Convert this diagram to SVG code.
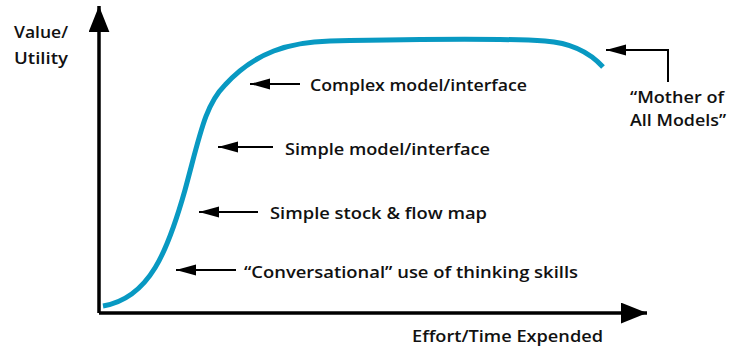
<svg xmlns="http://www.w3.org/2000/svg" width="739" height="351" viewBox="0 0 739 351">
  <defs>
    <marker id="head" viewBox="0 0 10 10" refX="10" refY="5" markerWidth="10" markerHeight="5.6" orient="auto" markerUnits="strokeWidth" preserveAspectRatio="none">
      <path d="M0,0 L10,5 L0,10 Z" fill="#000"/>
    </marker>
    <marker id="axisHead" viewBox="0 0 10 10" refX="10" refY="5" markerWidth="7.5" markerHeight="6" orient="auto" markerUnits="strokeWidth" preserveAspectRatio="none">
      <path d="M0,0 L10,5 L0,10 Z" fill="#000"/>
    </marker>
    <style>
      .lbl { font-family: "Open Sans", "Liberation Sans", sans-serif; font-weight: 600; font-size: 17px; fill: #111; }
      .ptr { stroke: #000; stroke-width: 2; fill: none; marker-end: url(#head); }
      .axis { stroke: #000; stroke-width: 3.5; fill: none; marker-end: url(#axisHead); }
      .curve { stroke: #0899c2; stroke-width: 5; fill: none; stroke-linecap: butt; }
    </style>
  </defs>

  <!-- axes -->
  <g id="axes">
    <path class="axis" d="M99,313 L99,6"/>
    <path class="axis" d="M99,313 L647,313"/>
    <text class="lbl" x="14" y="38" textLength="54" lengthAdjust="spacingAndGlyphs">Value/</text>
    <text class="lbl" x="14" y="64" textLength="54" lengthAdjust="spacingAndGlyphs">Utility</text>
    <text class="lbl" x="412" y="342" textLength="191" lengthAdjust="spacingAndGlyphs">Effort/Time Expended</text>
  </g>

  <!-- value curve -->
  <g id="curve">
    <path class="curve" d="M103,306 C150,298 168,250 185,190 C200,135 205,105 225,85 C255,52 290,42 330,41 C420,39 500,38 545,41 C575,43 592,55 603,67"/>
  </g>

  <!-- pointer connectors -->
  <g id="connectors">
    <path class="ptr" d="M300,84 L250,84"/>
    <path class="ptr" d="M273,147 L218,147"/>
    <path class="ptr" d="M258,212 L199,212"/>
    <path class="ptr" d="M236,270 L176,270"/>
    <path class="ptr" d="M668,82 L668,50 L606,50"/>
  </g>

  <g id="complex">
    <text class="lbl" x="310" y="91" textLength="217" lengthAdjust="spacingAndGlyphs">Complex model/interface</text>
  </g>
  <g id="simple-model">
    <text class="lbl" x="285" y="155" textLength="205" lengthAdjust="spacingAndGlyphs">Simple model/interface</text>
  </g>
  <g id="stock-flow">
    <text class="lbl" x="270" y="219" textLength="217" lengthAdjust="spacingAndGlyphs">Simple stock &amp; flow map</text>
  </g>
  <g id="conversational">
    <text class="lbl" x="244" y="278" textLength="334" lengthAdjust="spacingAndGlyphs">“Conversational” use of thinking skills</text>
  </g>
  <g id="mother">
    <text class="lbl" x="630" y="103" textLength="94" lengthAdjust="spacingAndGlyphs">“Mother of</text>
    <text class="lbl" x="630" y="126" textLength="96" lengthAdjust="spacingAndGlyphs">All Models”</text>
  </g>
</svg>
